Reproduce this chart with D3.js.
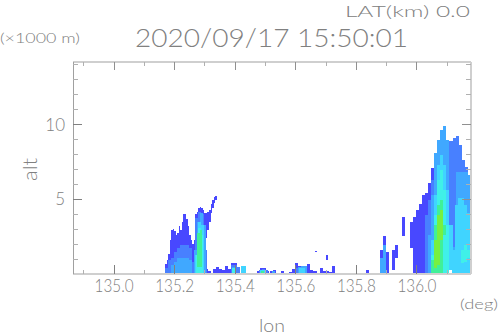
<!DOCTYPE html>
<html>
<head>
<meta charset="utf-8">
<script src="https://cdn.jsdelivr.net/npm/d3@7"></script>
<style>
  html, body { margin: 0; padding: 0; background: #fff; }
  svg { display: block; }
  text { font-family: "Lato", "DejaVu Sans", sans-serif; font-weight: 300; fill: #808080; }
</style>
</head>
<body>
<section></section>
<script>
"use strict";

//Chart texts
const titleText = "2020/09/17 15:50:01";
const latText = "LAT(km) 0.0";
const altUnit = "(\u00d71000 m)";
const lonUnit = "(deg)";
const xName = "lon";
const yName = "alt";

//Axis ticks
const lonMajor = [135.0, 135.2, 135.4, 135.6, 135.8, 136.0];
const lonMinor = [134.9, 135.1, 135.3, 135.5, 135.7, 135.9, 136.1];
const altMajor = [5, 10];
const altMinor = [1, 2, 3, 4, 6, 7, 8, 9, 11, 12, 13, 14];
const lonDomain = [134.866, 136.18];
const altDomain = [0, 14.15];

//Colour of each contour level, weakest first
const levelColors = ["#4848ff", "#4880ff", "#40a8ff", "#40d4ff", "#40f0e8", "#40f098", "#78f040"];

//Contour blobs per level: [first lon, tops (km), bases (km, empty = ground), lon step]
const level1 = [
  [135.17, [0.64, 0.9, 1.3, 2.24, 2.91, 2.98, 2.84, 2.58, 2.71, 3.18, 2.91, 3.44, 3.98, 3.98, 3.65, 3.18, 2.58, 2.24, 1.97, 2.24,
      3.98, 4.11, 4.38, 4.45, 4.38, 4.25, 4.05, 4.05, 4.11, 4.25, 4.65, 4.92, 5.12, 5.18],
    [0, 0, 0, 0, 0, 0, 0, 0, 0, 0, 0, 0, 0, 0, 0, 0, 0, 0, 0, 0, 0, 0, 0, 0, 0, 0, 1.57, 2.37, 2.91, 3.44, 4.05, 4.38, 4.72, 4.92],
    0.005],
  [135.302, [0.3, 0.17]],
  [135.329, [0.3, 0.43, 0.3, 0.23, 0.5, 0.3, 0.7, 0.7, 0.43]],
  [135.474, [0.17, 0.37, 0.37, 0.17]],
  [135.517, [0.17, 0.23]],
  [135.553, [0.17]],
  [135.58, [0.1, 0.3, 0.7, 0.5, 0.5, 0.5, 0.64, 0.23, 0.17]],
  [135.665, [1.5], [1.43], 0.005],
  [135.682, [0.37, 0.17, 0.17, 0.1]],
  [135.702, [1.24], [0.9], 0.006],
  [135.722, [0.5]],
  [135.832, [0.23]],
  [135.88, [1.57, 2.51, 1.44]],
  [135.92, [1.57, 1.91], [0.23, 1.04]],
  [135.953, [3.78], [2.51]],
  [135.979, [3.44, 3.78, 4.25, 4.65, 5.25, 5.38, 6.05, 7.06, 8.06, 8.93, 9.6, 9.87, 8.93, 8.86, 9.06, 9.2, 8.6, 7.59, 7.12, 6.59],
    [1.71, 0, 0, 0, 0, 0, 0, 0, 0, 0, 0, 0, 0, 0.23, 0, 0, 0, 0, 0, 0]],
];
const level2 = [
  [135.17, [0.37, 0.9, 1.04, 1.44, 1.71, 1.91, 1.91, 1.91, 1.71]],
  [135.259, [0.77, 3.71, 4.11, 3.98, 1.57]],
  [135.388, [0.57, 0.57, 0.43]],
  [135.479, [0.23, 0.3, 0.23]],
  [135.599, [0.37]],
  [136.029, [3.91, 4.92, 6.25, 8.06, 8.93, 9.6, 9.87, 8.93, 8.86, 9.06, 9.2, 8.6, 7.59, 7.12, 6.59],
    [0, 0, 0, 0, 0, 0, 0, 0, 0.23, 0, 0, 0, 0, 0, 0]],
];
const level3 = [
  [135.19, [0.57, 0.77, 1.04, 1.04, 1.04, 1.04, 0.9]],
  [135.264, [1.57, 3.44, 4.05, 3.24]],
  [135.391, [0.43]],
  [135.523, [0.17]],
  [135.609, [0.43, 0.5, 0.5]],
  [135.88, [1.04, 1.91]],
  [136.039, [2.58, 5.25, 8.06, 8.93, 9.6, 9.87, 8.93, 1.77, 1.77, 6.79, 6.79, 6.79, 6.79, 6.59],
    [0, 0, 0, 0, 0, 0, 0, 0.23, 0, 0, 0, 0, 0, 0]],
];
const level4 = [
  [135.269, [1.24, 3.44, 3.24]],
  [135.422, [0.5, 0.5], [], 0.0078],
  [135.484, [0.23, 0.23]],
  [135.613, [0.37, 0.37]],
  [136.049, [2.24, 5.25, 7.26, 7.93, 7.26, 5.59, 3.24], [0, 0, 0, 0, 0, 0, 0.23]],
  [136.118, [1.57, 4.58, 5.05, 5.05, 4.58, 4.05]],
];
const level5 = [
  [135.272, [1.24, 3.04, 2.58], [], 0.008],
  [135.391, [0.37]],
  [136.049, [1.24, 3.91, 6.25, 6.92, 5.59, 3.24]],
  [136.148, [1.57, 1.91, 1.57], [0.7, 0.77, 1.04]],
];
const level6 = [
  [135.276, [2.71, 2.9], [0.43, 0.43], 0.0085],
  [135.487, [0.17]],
  [136.049, [0.9, 3.24, 4.58, 4.92, 3.24], [0, 0, 0, 0, 2.58]],
];
const level7 = [
  [136.058, [2.24, 3.91, 4.25], [0.37, 0.57, 2.24]],
];
const levels = [level1, level2, level3, level4, level5, level6, level7];

//Graph dimensions
const w = 498;
const h = 336;
const margin = { top: 62, bottom: 62.5, left: 73, right: 27 };
const defaultStep = 0.01;

const svg = d3.select("section").append("svg").attr("width", w).attr("height", h);

const xScale = d3.scaleLinear().domain(lonDomain).range([margin.left, w - margin.right]);
const yScale = d3.scaleLinear().domain(altDomain).range([h - margin.bottom, margin.top]);

//Stepped area for one blob
const area = d3
  .area()
  .curve(d3.curveStepAfter)
  .x((d) => xScale(d.lon))
  .y0((d) => yScale(d.base))
  .y1((d) => yScale(d.top));

const blobPoints = ([lon0, tops, bases = [], step = defaultStep]) => {
  const pts = tops.map((top, i) => ({ lon: lon0 + i * step, top, base: bases[i] || 0 }));
  const last = pts[pts.length - 1];
  pts.push({ lon: last.lon + step, top: last.top, base: last.base });
  return pts;
};

const contours = svg.append("g").attr("shape-rendering", "crispEdges");
levels.forEach((level, i) => {
  contours
    .append("g")
    .selectAll("path")
    .data(level)
    .enter()
    .append("path")
    .attr("fill", levelColors[i])
    .attr("d", (d) => area(blobPoints(d)));
});

//Frame, left side is darker than the others
const frame = svg.append("g").attr("fill", "none").attr("shape-rendering", "crispEdges");
const x0 = xScale.range()[0];
const x1 = xScale.range()[1];
const y0 = yScale.range()[0];
const y1 = yScale.range()[1];
frame.append("line").attr("x1", x0).attr("x2", x1).attr("y1", y0).attr("y2", y0).attr("stroke", "#cfcfcf").attr("stroke-width", 2);
frame.append("line").attr("x1", x0).attr("x2", x1).attr("y1", y1).attr("y2", y1).attr("stroke", "#cfcfcf").attr("stroke-width", 2);
frame.append("line").attr("x1", x1).attr("x2", x1).attr("y1", y0).attr("y2", y1).attr("stroke", "#cfcfcf").attr("stroke-width", 2);
frame.append("line").attr("x1", x0).attr("x2", x0).attr("y1", y0).attr("y2", y1).attr("stroke", "#a0a0a0");

const addAxis = (axis, transform, color) => {
  const g = svg
    .append("g")
    .attr("transform", transform)
    .attr("shape-rendering", "crispEdges")
    .call(axis)
    .call((s) => s.select(".domain").remove());
  g.selectAll("line").attr("stroke", color);
  return g;
};

//Major and minor ticks point inward on all four sides
const noLabel = () => "";
addAxis(d3.axisBottom(xScale).tickValues(lonMinor).tickSize(-4).tickFormat(noLabel), `translate(0, ${y0})`, "#b0b0b0");
addAxis(d3.axisTop(xScale).tickValues(lonMinor).tickSize(-4).tickFormat(noLabel), `translate(0, ${y1})`, "#b0b0b0");
addAxis(d3.axisTop(xScale).tickValues(lonMajor).tickSize(-8).tickFormat(noLabel), `translate(0, ${y1})`, "#909090");
addAxis(d3.axisLeft(yScale).tickValues(altMinor).tickSize(-5).tickFormat(noLabel), `translate(${x0}, 0)`, "#b0b0b0");
addAxis(d3.axisRight(yScale).tickValues(altMinor).tickSize(-5).tickFormat(noLabel), `translate(${x1}, 0)`, "#b0b0b0");
addAxis(d3.axisRight(yScale).tickValues(altMajor).tickSize(-9).tickFormat(noLabel), `translate(${x1}, 0)`, "#909090");

const xAxisG = addAxis(
  d3.axisBottom(xScale).tickValues(lonMajor).tickSize(-9).tickFormat(d3.format(".1f")),
  `translate(0, ${y0})`,
  "#808080"
);
xAxisG
  .selectAll("text")
  .attr("y", 18.5)
  .attr("dy", 0)
  .attr("font-size", 17)
  .attr("textLength", 39)
  .attr("lengthAdjust", "spacingAndGlyphs");

const yAxisG = addAxis(
  d3.axisLeft(yScale).tickValues(altMajor).tickSize(-9).tickFormat(d3.format("d")),
  `translate(${x0}, 0)`,
  "#808080"
);
yAxisG
  .selectAll("text")
  .attr("x", -8)
  .attr("dy", "0.36em")
  .attr("font-size", 17);

//Free text labels
const label = (text, x, y, size, length, anchor = "start") =>
  svg
    .append("text")
    .attr("x", x)
    .attr("y", y)
    .attr("font-size", size)
    .attr("text-anchor", anchor)
    .attr("textLength", length)
    .attr("lengthAdjust", "spacingAndGlyphs")
    .text(text);

label(latText, 345, 16.5, 16, 125);
label(titleText, 135, 47, 25, 273);
label(altUnit, 0, 43, 13, 80);
label(lonUnit, 460, 309, 14, 38);
label(xName, 259, 332, 18, 26);
label(yName, 0, 0, 20, 23).attr("transform", "translate(37, 181) rotate(-90)");
</script>
</body>
</html>
